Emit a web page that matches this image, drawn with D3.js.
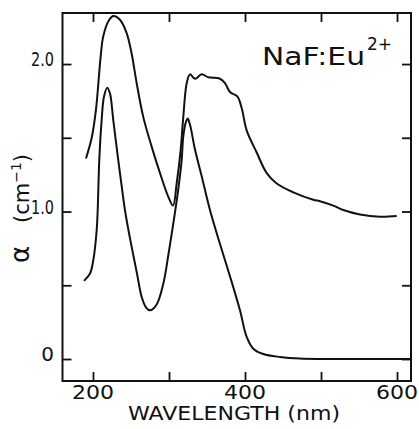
<!DOCTYPE html>
<html>
<head>
<meta charset="utf-8">
<script src="https://cdn.jsdelivr.net/npm/d3@7"></script>
<style>
  html, body { margin: 0; padding: 0; background: #fff; }
  svg { display: block; }
  text { font-family: "DejaVu Sans", sans-serif; fill: #111; }
</style>
</head>
<body>
<svg id="chart" width="419" height="429"></svg>
<script>
// Absorption spectra of NaF:Eu2+ (two samples)
const upperNm = [190.8, 198.3, 203.9, 210.1, 213.6, 221.4, 226.7, 235.5, 244.3, 250.9,
  257.5, 266.2, 277.2, 288.2, 299.1, 305.3, 310.1, 315.4, 318.8, 323.3,
  327.6, 334.2, 343.0, 351.7, 367.1, 373.7, 380.3, 389.9, 395.7, 402.2,
  415.4, 428.6, 441.7, 463.6, 489.9, 498.7, 516.2, 529.3, 551.3, 577.6, 599.6];
const upperAlpha = [1.36, 1.50, 1.69, 2.05, 2.19, 2.30, 2.325, 2.30, 2.21, 2.07,
  1.87, 1.64, 1.44, 1.26, 1.10, 1.04, 1.19, 1.42, 1.64, 1.87,
  1.93, 1.90, 1.93, 1.91, 1.90, 1.87, 1.81, 1.78, 1.70, 1.55,
  1.40, 1.26, 1.19, 1.13, 1.08, 1.07, 1.04, 1.01, 0.98, 0.965, 0.97];

const lowerNm = [188.2, 196.1, 200.4, 204.9, 206.2, 208.3, 211.4, 214.5, 218.8, 222.4,
  226.7, 232.0, 237.8, 243.0, 250.9, 257.5, 264.1, 269.7, 275.0, 283.8,
  292.5, 299.0, 305.7, 312.2, 316.7, 318.8, 322.4, 324.6, 327.6, 334.2,
  343.0, 353.9, 367.1, 380.3, 393.4, 402.2, 410.9, 424.1, 446.1, 472.4, 500, 618];
const lowerAlpha = [0.53, 0.58, 0.67, 0.875, 1.01, 1.35, 1.62, 1.78, 1.84, 1.80,
  1.62, 1.40, 1.17, 0.98, 0.76, 0.59, 0.42, 0.35, 0.33, 0.37,
  0.51, 0.70, 0.92, 1.15, 1.35, 1.51, 1.61, 1.63, 1.59, 1.42,
  1.24, 1.01, 0.78, 0.56, 0.33, 0.15, 0.07, 0.034, 0.014, 0.003, 0, 0];

const xTicks = [200, 300, 400, 500, 600];
const xTickLabels = ["200", "", "400", "", "600"];
const yTicks = [0, 0.5, 1.0, 1.5, 2.0];
const yTickLabels = ["0", "", "1.0", "", "2.0"];

const svg = d3.select("#chart");
const plotLeft = 62.5, plotRight = 411, plotTop = 13, plotBottom = 381;

const x = d3.scaleLinear().domain([159.9, 618.4]).range([plotLeft, plotRight]);
const y = d3.scaleLinear().domain([-0.149, 2.346]).range([plotBottom, plotTop]);

const ink = "#111";

// frame
svg.append("rect")
  .attr("x", plotLeft).attr("y", plotTop)
  .attr("width", plotRight - plotLeft).attr("height", plotBottom - plotTop)
  .attr("fill", "none").attr("stroke", ink).attr("stroke-width", 2);

// inward ticks on all four sides
const tickLen = 9;
const axisStyle = g => {
  g.select(".domain").remove();
  g.selectAll(".tick line").attr("stroke", ink).attr("stroke-width", 1.8);
  g.selectAll(".tick text").remove();
};
svg.append("g").attr("transform", `translate(0,${plotBottom})`)
  .call(d3.axisTop(x).tickValues(xTicks).tickSizeOuter(0).tickSize(tickLen)).call(axisStyle);
svg.append("g").attr("transform", `translate(0,${plotTop})`)
  .call(d3.axisBottom(x).tickValues(xTicks).tickSizeOuter(0).tickSize(tickLen)).call(axisStyle);
svg.append("g").attr("transform", `translate(${plotLeft},0)`)
  .call(d3.axisRight(y).tickValues(yTicks).tickSizeOuter(0).tickSize(tickLen)).call(axisStyle);
svg.append("g").attr("transform", `translate(${plotRight},0)`)
  .call(d3.axisLeft(y).tickValues(yTicks).tickSizeOuter(0).tickSize(tickLen)).call(axisStyle);

// tick labels
xTicks.forEach((t, i) => {
  if (!xTickLabels[i]) return;
  svg.append("text")
    .attr("x", x(t)).attr("y", 399)
    .attr("text-anchor", "middle")
    .attr("font-size", 19)
    .attr("textLength", 42).attr("lengthAdjust", "spacingAndGlyphs")
    .text(xTickLabels[i]);
});
yTicks.forEach((t, i) => {
  const lab = yTickLabels[i];
  if (!lab) return;
  const tx = svg.append("text")
    .attr("x", 54).attr("y", y(t) + 2)
    .attr("text-anchor", "end")
    .attr("font-size", 20)
    .text(lab);
  if (lab.length > 1) tx.attr("textLength", 23).attr("lengthAdjust", "spacingAndGlyphs");
});

// axis titles
svg.append("text")
  .attr("x", 128).attr("y", 420)
  .attr("font-size", 19)
  .attr("textLength", 212).attr("lengthAdjust", "spacingAndGlyphs")
  .text("WAVELENGTH (nm)");

const yTitle = svg.append("g")
  .attr("transform", "translate(29,263) rotate(-90)");
yTitle.append("text")
  .attr("x", 0).attr("y", 0)
  .attr("font-size", 26)
  .text("α");
const unit = yTitle.append("text")
  .attr("x", 40).attr("y", 0)
  .attr("font-size", 21);
unit.append("tspan").text("(cm");
unit.append("tspan").attr("dy", -8).attr("font-size", 14).text("−1");
unit.append("tspan").attr("dy", 8).text(")");

// sample label
const label = svg.append("text")
  .attr("x", 262).attr("y", 65)
  .attr("font-size", 24);
label.append("tspan").attr("textLength", 103).attr("lengthAdjust", "spacingAndGlyphs").text("NaF:Eu");
label.append("tspan").attr("dx", 2).attr("dy", -15).attr("font-size", 17).text("2+");

// spectra
const line = d3.line()
  .x(d => x(d[0]))
  .y(d => y(d[1]))
  .curve(d3.curveCatmullRom.alpha(0.5));

const upper = upperNm.map((v, i) => [v, upperAlpha[i]]);
const lower = lowerNm.map((v, i) => [v, lowerAlpha[i]]);

svg.selectAll("path.spectrum")
  .data([upper, lower])
  .enter().append("path")
  .attr("class", "spectrum")
  .attr("d", line)
  .attr("fill", "none")
  .attr("stroke", ink)
  .attr("stroke-width", 2)
  .attr("stroke-linejoin", "round");
</script>
</body>
</html>
